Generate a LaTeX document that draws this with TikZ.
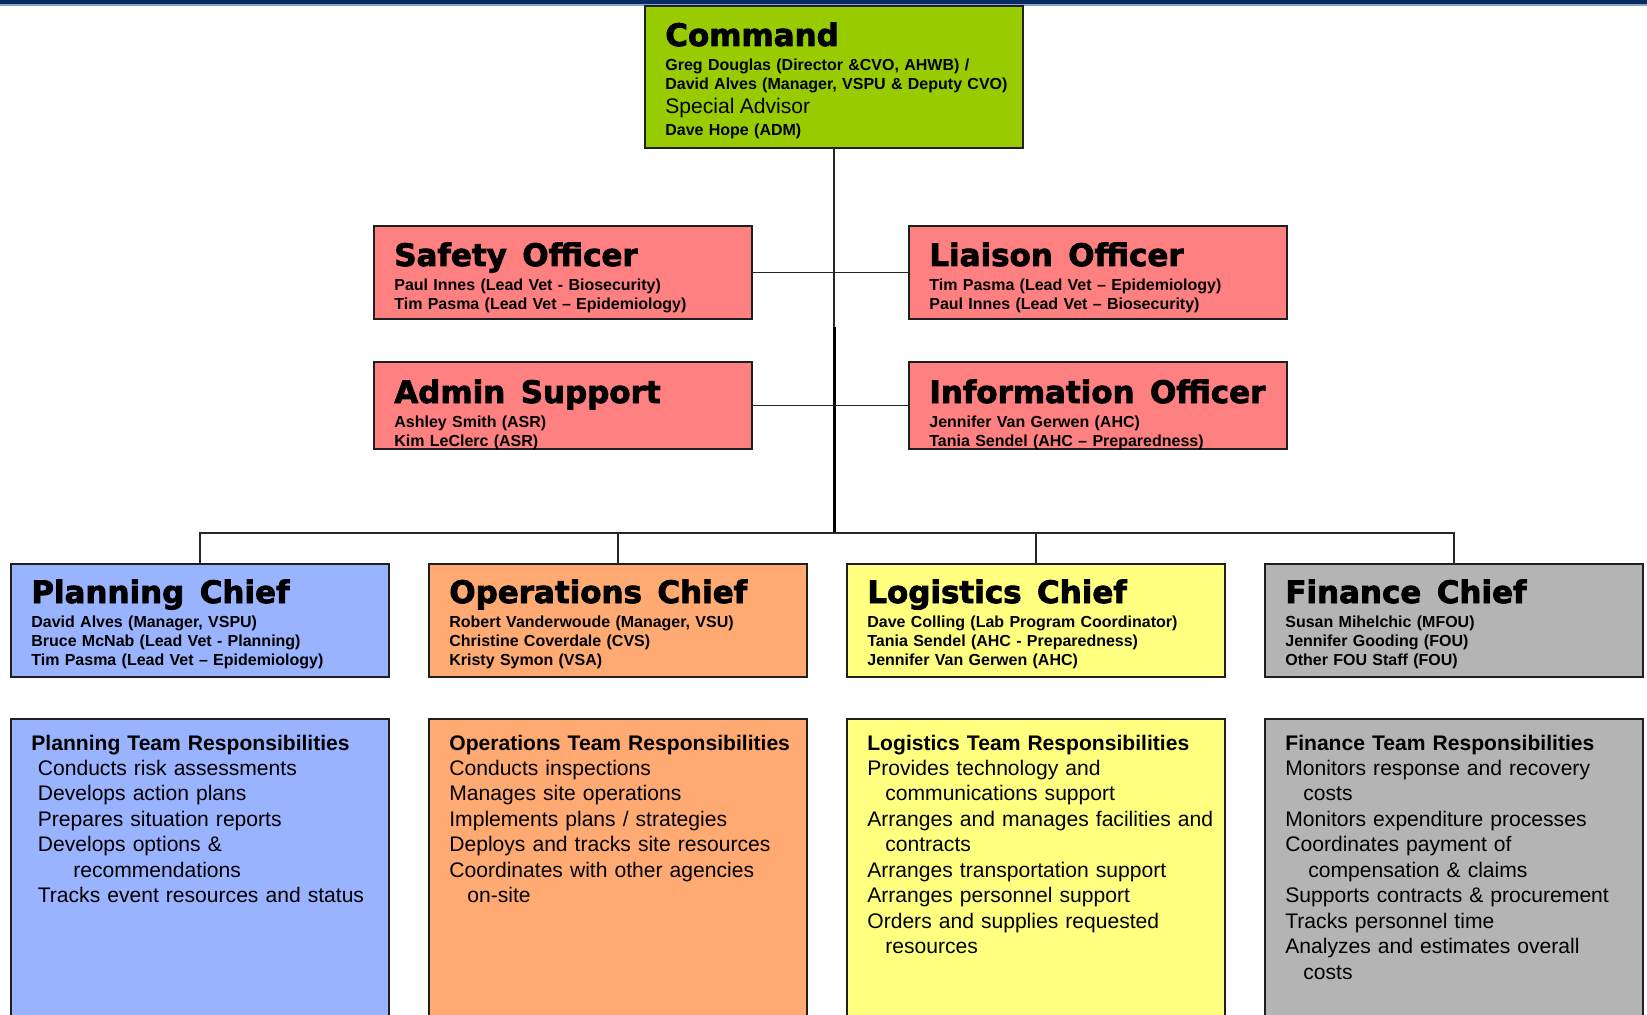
\documentclass[tikz,border=0pt]{standalone}
\usepackage{fontspec}
\setmainfont{Liberation Sans}
\newfontfamily\blackFont[FakeBold=2.5]{DejaVu Sans}
\usepackage{tikz}
\usetikzlibrary{positioning}
\definecolor{cmdGreen}{RGB}{153,204,0}
\definecolor{staffRed}{RGB}{255,128,128}
\definecolor{planBlue}{RGB}{153,179,255}
\definecolor{opsOrange}{RGB}{255,170,115}
\definecolor{logYellow}{RGB}{255,255,128}
\definecolor{finGrey}{RGB}{180,180,180}
\definecolor{barNavy}{RGB}{4,44,98}
\definecolor{barLight}{RGB}{140,160,195}
\newcommand{\titleFont}{\blackFont\bfseries\fontsize{17.6}{20}\selectfont\spaceskip=0.5em\relax}
\tikzstyle{orgBox} = [rectangle, draw=black!88, line width=1.1pt, minimum width=7.56cm, inner sep=0pt, outer sep=0pt]
\tikzstyle{nameText} = [anchor=base west, inner sep=0pt, text width=7.3cm, align=left, font=\bfseries\fontsize{9.1}{10.8}\selectfont]
\tikzstyle{respText} = [anchor=base west, inner sep=0pt, text width=7.4cm, align=left, font=\fontsize{12}{14.5}\selectfont]
\tikzstyle{thinLink} = [draw=black!85, line width=0.75pt]
\tikzstyle{thickLink} = [draw=black, line width=1.7pt]

\begin{document}
\begin{tikzpicture}
	\useasboundingbox (0,0) rectangle (32.94,-20.3);
	\clip (0,0) rectangle (32.94,-20.3);
	
	% top bar
	\fill[barNavy] (0,0) rectangle (32.94,-0.08);
	\fill[barLight] (0,-0.08) rectangle (32.94,-0.12);
	
	\node[orgBox, fill=cmdGreen, minimum height=2.84cm, anchor=north]at(16.68,-0.12)(Command){};
	\node[nameText]at([xshift=0.4cm, yshift=-0.8cm]Command.north west)(Command-Text){{\titleFont Command}\\[3.1pt]
		Greg Douglas (Director \&CVO, AHWB) /\\
		David Alves (Manager, VSPU \& Deputy CVO)\\[2.9pt]
		{\mdseries\fontsize{12}{14}\selectfont Special Advisor}\\[1.7pt]
		Dave Hope (ADM)};
	
	\node[orgBox, fill=staffRed, minimum height=1.86cm, anchor=north east]at([xshift=-1.64cm, yshift=-1.56cm]Command.south)(Safety-Officer){};
	\node[nameText]at([xshift=0.4cm, yshift=-0.8cm]Safety-Officer.north west)(Safety-Text){{\titleFont Safety Officer}\\[3.4pt]
		Paul Innes (Lead Vet - Biosecurity)\\
		Tim Pasma (Lead Vet – Epidemiology)};
	
	\node[orgBox, fill=staffRed, minimum height=1.86cm, anchor=north west]at([xshift=1.5cm, yshift=-1.56cm]Command.south)(Liaison-Officer){};
	\node[nameText]at([xshift=0.4cm, yshift=-0.8cm]Liaison-Officer.north west)(Liaison-Text){{\titleFont Liaison Officer}\\[3.4pt]
		Tim Pasma (Lead Vet – Epidemiology)\\
		Paul Innes (Lead Vet – Biosecurity)};
	
	\node[orgBox, fill=staffRed, minimum height=1.74cm, anchor=north east]at([yshift=-0.86cm]Safety-Officer.south east)(Admin-Support){};
	\node[nameText]at([xshift=0.4cm, yshift=-0.82cm]Admin-Support.north west)(Admin-Text){{\titleFont Admin Support}\\[3.4pt]
		Ashley Smith (ASR)\\
		Kim LeClerc (ASR)};
	
	\node[orgBox, fill=staffRed, minimum height=1.74cm, anchor=north west]at([yshift=-0.86cm]Liaison-Officer.south west)(Information-Officer){};
	\node[nameText]at([xshift=0.4cm, yshift=-0.82cm]Information-Officer.north west)(Information-Text){{\titleFont Information Officer}\\[3.4pt]
		Jennifer Van Gerwen (AHC)\\
		Tania Sendel (AHC – Preparedness)};
	
	\node[orgBox, fill=planBlue, minimum height=2.26cm, anchor=north west]at(0.22,-11.28)(Planning-Chief){};
	\node[nameText]at([xshift=0.4cm, yshift=-0.78cm]Planning-Chief.north west)(Planning-Text){{\titleFont Planning Chief}\\[3.4pt]
		David Alves (Manager, VSPU)\\
		Bruce McNab (Lead Vet - Planning)\\
		Tim Pasma (Lead Vet – Epidemiology)};
	
	\node[orgBox, fill=opsOrange, minimum height=2.26cm, anchor=north west]at([xshift=0.8cm]Planning-Chief.north east)(Operations-Chief){};
	\node[nameText]at([xshift=0.4cm, yshift=-0.78cm]Operations-Chief.north west)(Operations-Text){{\titleFont Operations Chief}\\[3.4pt]
		Robert Vanderwoude (Manager, VSU)\\
		Christine Coverdale (CVS)\\
		Kristy Symon (VSA)};
	
	\node[orgBox, fill=logYellow, minimum height=2.26cm, anchor=north west]at([xshift=0.8cm]Operations-Chief.north east)(Logistics-Chief){};
	\node[nameText]at([xshift=0.4cm, yshift=-0.78cm]Logistics-Chief.north west)(Logistics-Text){{\titleFont Logistics Chief}\\[3.4pt]
		Dave Colling (Lab Program Coordinator)\\
		Tania Sendel (AHC - Preparedness)\\
		Jennifer Van Gerwen (AHC)};
	
	\node[orgBox, fill=finGrey, minimum height=2.26cm, anchor=north west]at([xshift=0.8cm]Logistics-Chief.north east)(Finance-Chief){};
	\node[nameText]at([xshift=0.4cm, yshift=-0.78cm]Finance-Chief.north west)(Finance-Text){{\titleFont Finance Chief}\\[3.4pt]
		Susan Mihelchic (MFOU)\\
		Jennifer Gooding (FOU)\\
		Other FOU Staff (FOU)};
	
	% team responsibilities
	\node[orgBox, fill=planBlue, minimum height=6.4cm, anchor=north]at([yshift=-0.84cm]Planning-Chief.south)(Planning-Team){};
	\node[respText]at([xshift=0.4cm, yshift=-0.62cm]Planning-Team.north west)(Planning-Duties){\textbf{Planning Team Responsibilities}\\
		\hspace*{0.13cm}Conducts risk assessments\\
		\hspace*{0.13cm}Develops action plans\\
		\hspace*{0.13cm}Prepares situation reports\\
		\hspace*{0.13cm}Develops options \&\\
		\hspace*{0.84cm}recommendations\\
		\hspace*{0.13cm}Tracks event resources and status};
	
	\node[orgBox, fill=opsOrange, minimum height=6.4cm, anchor=north]at([yshift=-0.84cm]Operations-Chief.south)(Operations-Team){};
	\node[respText]at([xshift=0.4cm, yshift=-0.62cm]Operations-Team.north west)(Operations-Duties){\textbf{Operations Team Responsibilities}\\
		Conducts inspections\\
		Manages site operations\\
		Implements plans / strategies\\
		Deploys and tracks site resources\\
		Coordinates with other agencies\\
		\hspace*{0.36cm}on-site};
	
	\node[orgBox, fill=logYellow, minimum height=6.4cm, anchor=north]at([yshift=-0.84cm]Logistics-Chief.south)(Logistics-Team){};
	\node[respText]at([xshift=0.4cm, yshift=-0.62cm]Logistics-Team.north west)(Logistics-Duties){\textbf{Logistics Team Responsibilities}\\
		Provides technology and\\
		\hspace*{0.36cm}communications support\\
		Arranges and manages facilities and\\
		\hspace*{0.36cm}contracts\\
		Arranges transportation support\\
		Arranges personnel support\\
		Orders and supplies requested\\
		\hspace*{0.36cm}resources};
	
	\node[orgBox, fill=finGrey, minimum height=6.4cm, anchor=north]at([yshift=-0.84cm]Finance-Chief.south)(Finance-Team){};
	\node[respText]at([xshift=0.4cm, yshift=-0.62cm]Finance-Team.north west)(Finance-Duties){\textbf{Finance Team Responsibilities}\\
		Monitors response and recovery\\
		\hspace*{0.36cm}costs\\
		Monitors expenditure processes\\
		Coordinates payment of\\
		\hspace*{0.46cm}compensation \& claims\\
		Supports contracts \& procurement\\
		Tracks personnel time\\
		Analyzes and estimates overall\\
		\hspace*{0.36cm}costs};
	
	% connectors
	\coordinate (Split) at([yshift=-3.58cm]Command.south);
	\coordinate (Bus) at([yshift=-7.7cm]Command.south);
	\draw[thinLink] (Command.south) -- (Bus);
	\draw[thickLink] (Split) -- (Bus);
	\draw[thinLink] (Safety-Officer.east) -- (Liaison-Officer.west);
	\draw[thinLink] (Admin-Support.east) -- (Information-Officer.west);
	\draw[thinLink] (Planning-Chief.north) |- (Bus) -| (Finance-Chief.north);
	\draw[thinLink] (Operations-Chief.north) -- (Operations-Chief.north |- Bus);
	\draw[thinLink] (Logistics-Chief.north) -- (Logistics-Chief.north |- Bus);

\end{tikzpicture}
\end{document}
